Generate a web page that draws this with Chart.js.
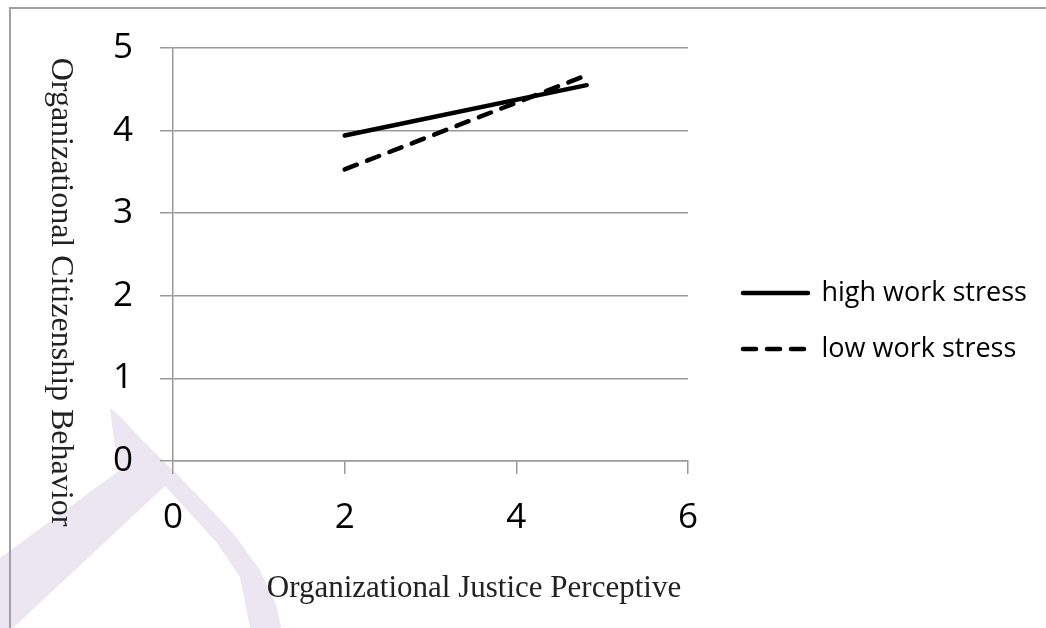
<!DOCTYPE html>
<html><head><meta charset="utf-8">
<script src="https://cdn.jsdelivr.net/npm/chart.js@4"></script>
<style>html,body{margin:0;padding:0;background:#fff;} #wrap{width:1046px;height:628px;position:relative;}</style>
</head><body><div id="wrap"><canvas id="c" width="1046" height="628"></canvas></div>
<script>
const xPoints = [2, 4.82];
const highWorkStress = [3.94, 4.55];
const lowWorkStress = [3.53, 4.67];
const seriesNames = ['high work stress', 'low work stress'];
const xTicks = [0, 2, 4, 6];
const yTicks = [0, 1, 2, 3, 4, 5];
const xTitle = 'Organizational Justice Perceptive';
const yTitle = 'Organizational Citizenship Behavior';

const GRID = '#9a9a9a';
const tickFont = {family: 'Open Sans', size: 35};

const bgPlugin = {
  id: 'bg',
  beforeDraw(chart) {
    const ctx = chart.ctx;
    ctx.save();
    ctx.fillStyle = '#fff';
    ctx.fillRect(0, 0, chart.width, chart.height);
    // faint watermark
    const pts = [[110,408],[122,418],[142,440],[173,470],[200,498],[233,533],[260,570],[277,607],[281,628],[250,628],[240,577],[217,543],[187,510],[165,486],[13,628],[0,628],[0,558],[120,470],[114,440]];
    ctx.fillStyle = '#ebe6f1';
    ctx.beginPath();
    pts.forEach((p, i) => i ? ctx.lineTo(p[0], p[1]) : ctx.moveTo(p[0], p[1]));
    ctx.closePath();
    ctx.fill();
    // frame
    ctx.strokeStyle = '#a0a0a0';
    ctx.lineWidth = 2;
    ctx.strokeRect(10, 8, 1100, 700);
    ctx.restore();
  }
};

const titlePlugin = {
  id: 'axisTitles',
  afterDraw(chart) {
    const ctx = chart.ctx;
    ctx.save();
    ctx.fillStyle = '#222';
    ctx.textAlign = 'center';
    ctx.textBaseline = 'alphabetic';
    ctx.font = '31px "Liberation Serif"';
    ctx.fillText(xTitle, 474, 597);
    ctx.font = '32px "Liberation Serif"';
    ctx.translate(52, 292);
    ctx.rotate(Math.PI / 2);
    ctx.fillText(yTitle, 0, 0);
    ctx.restore();
  }
};

const legendPlace = {
  id: 'legendPlace',
  afterLayout(chart) {
    const lg = chart.legend;
    if (!lg) return;
    const pad = lg.options.labels.padding;
    const fs = lg.options.labels.font.size;
    lg.left = 743 - pad;
    lg.right = 1046;
    lg.top = 293 - pad - fs / 2;
    lg.bottom = lg.top + 200;
    lg.width = lg.right - lg.left;
    lg.height = 200;
  }
};

const mkData = (vals) => xPoints.map((x, i) => ({x: x, y: vals[i]}));

new Chart(document.getElementById('c'), {
  type: 'scatter',
  data: {
    datasets: [
      {label: seriesNames[0], data: mkData(highWorkStress), showLine: true, borderColor: '#000', backgroundColor: '#000',
       borderWidth: 4.5, borderCapStyle: 'round', pointRadius: 0, pointHoverRadius: 0, fill: false, tension: 0},
      {label: seriesNames[1], data: mkData(lowWorkStress), showLine: true, borderColor: '#000', backgroundColor: '#000',
       borderWidth: 4.5, borderCapStyle: 'round', borderDash: [13, 11], pointRadius: 0, pointHoverRadius: 0, fill: false, tension: 0}
    ]
  },
  options: {
    responsive: false,
    animation: false,
    layout: {padding: {top: 46, right: 358, bottom: 0, left: 0}},
    scales: {
      x: {
        type: 'linear', min: 0, max: 6,
        afterBuildTicks: s => { s.ticks = xTicks.map(v => ({value: v})); },
        afterFit: s => { s.height = 167; },
        grid: {drawOnChartArea: false, drawTicks: true, tickLength: 13, color: GRID, lineWidth: 1.5},
        border: {display: true, color: GRID, width: 1.5},
        ticks: {font: tickFont, color: '#000', padding: 23, maxRotation: 0}
      },
      y: {
        type: 'linear', min: 0, max: 5,
        afterBuildTicks: s => { s.ticks = yTicks.map(v => ({value: v})); },
        afterFit: s => { s.width = 173; },
        grid: {drawOnChartArea: true, drawTicks: true, tickLength: 13, color: GRID, lineWidth: 1.5},
        border: {display: true, color: GRID, width: 1.5},
        ticks: {font: tickFont, color: '#000', padding: 27}
      }
    },
    plugins: {
      tooltip: {enabled: false},
      legend: {
        display: true,
        position: 'chartArea',
        align: 'start',
        labels: {
          usePointStyle: true,
          pointStyle: 'line',
          pointStyleWidth: 65,
          padding: 29,
          color: '#000',
          font: {family: 'Open Sans', size: 27},
          generateLabels(chart) {
            const items = Chart.defaults.plugins.legend.labels.generateLabels(chart);
            items.forEach(it => {
              const ds = chart.data.datasets[it.datasetIndex];
              it.lineDash = ds.borderDash || [];
              it.lineWidth = ds.borderWidth;
              it.lineCap = ds.borderCapStyle;
              it.strokeStyle = ds.borderColor;
              it.pointStyle = 'line';
            });
            return items;
          }
        }
      }
    }
  },
  plugins: [bgPlugin, titlePlugin, legendPlace]
});
</script></body></html>
